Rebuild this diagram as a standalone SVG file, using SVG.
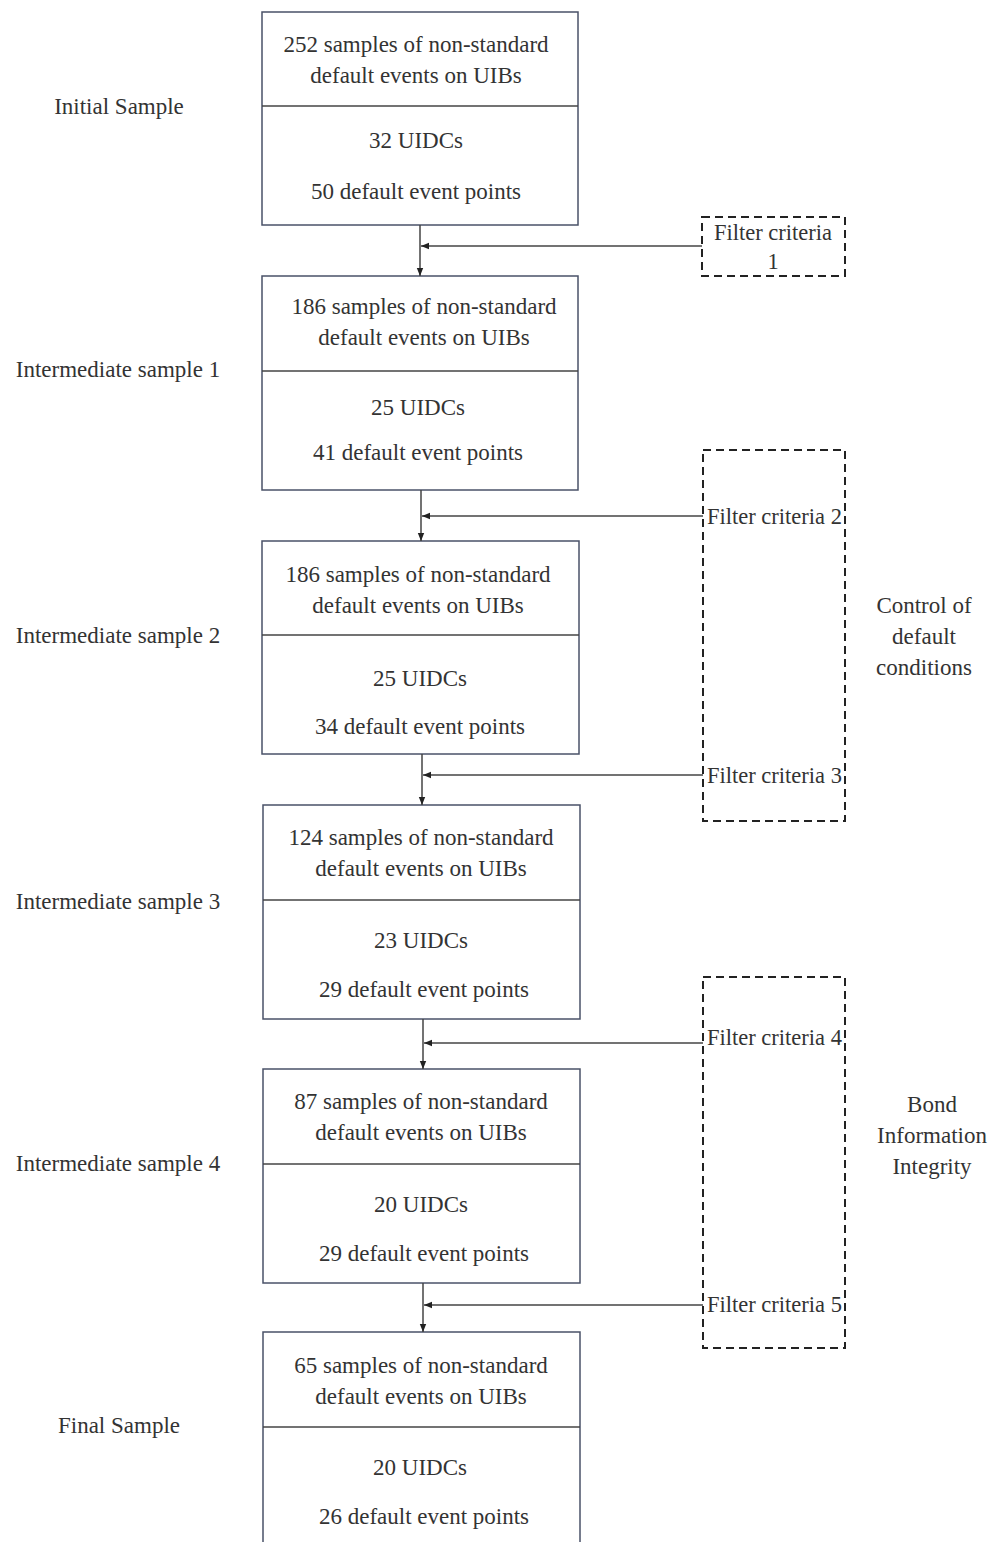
<svg xmlns="http://www.w3.org/2000/svg" width="1000" height="1542" viewBox="0 0 1000 1542">
<style>
text{font-family:"Liberation Serif","Times New Roman",serif;font-size:23px;fill:#333;}
.c{text-anchor:middle;}
.f{font-size:22.5px;}
.box{fill:#fff;stroke:#4a5268;stroke-width:1.5;}
.div{stroke:#444;stroke-width:1.5;}
.dash{fill:none;stroke:#222;stroke-width:2;stroke-dasharray:8,5;}
.con{stroke:#444;stroke-width:1.5;fill:none;}
</style>
<defs>
<marker id="ah" viewBox="0 0 10 10" refX="10" refY="5" markerWidth="8" markerHeight="8" markerUnits="userSpaceOnUse" orient="auto">
<path d="M0,1 L10,5 L0,9 z" fill="#222"/>
</marker>
</defs>
<rect width="1000" height="1542" fill="#fff"/>

<g id="labels-left">
<text class="c" x="119" y="114">Initial Sample</text>
<text class="c" x="118" y="377">Intermediate sample 1</text>
<text class="c" x="118" y="643">Intermediate sample 2</text>
<text class="c" x="118" y="909">Intermediate sample 3</text>
<text class="c" x="118" y="1171">Intermediate sample 4</text>
<text class="c" x="119" y="1433">Final Sample</text>
</g>

<g id="node1">
<rect class="box" x="262" y="12" width="316" height="213"/>
<line class="div" x1="262" y1="106" x2="578" y2="106"/>
<text class="c" x="416" y="52">252 samples of non-standard</text>
<text class="c" x="416" y="83">default events on UIBs</text>
<text class="c" x="416" y="148">32 UIDCs</text>
<text class="c" x="416" y="199">50 default event points</text>
</g>
<g id="node2">
<rect class="box" x="262" y="276" width="316" height="214"/>
<line class="div" x1="262" y1="371" x2="578" y2="371"/>
<text class="c" x="424" y="314">186 samples of non-standard</text>
<text class="c" x="424" y="345">default events on UIBs</text>
<text class="c" x="418" y="415">25 UIDCs</text>
<text class="c" x="418" y="460">41 default event points</text>
</g>
<g id="node3">
<rect class="box" x="262" y="541" width="317" height="213"/>
<line class="div" x1="262" y1="635" x2="579" y2="635"/>
<text class="c" x="418" y="582">186 samples of non-standard</text>
<text class="c" x="418" y="613">default events on UIBs</text>
<text class="c" x="420" y="686">25 UIDCs</text>
<text class="c" x="420" y="734">34 default event points</text>
</g>
<g id="node4">
<rect class="box" x="263" y="805" width="317" height="214"/>
<line class="div" x1="263" y1="900" x2="580" y2="900"/>
<text class="c" x="421" y="845">124 samples of non-standard</text>
<text class="c" x="421" y="876">default events on UIBs</text>
<text class="c" x="421" y="948">23 UIDCs</text>
<text class="c" x="424" y="997">29 default event points</text>
</g>
<g id="node5">
<rect class="box" x="263" y="1069" width="317" height="214"/>
<line class="div" x1="263" y1="1164" x2="580" y2="1164"/>
<text class="c" x="421" y="1109">87 samples of non-standard</text>
<text class="c" x="421" y="1140">default events on UIBs</text>
<text class="c" x="421" y="1212">20 UIDCs</text>
<text class="c" x="424" y="1261">29 default event points</text>
</g>
<g id="node6">
<rect class="box" x="263" y="1332" width="317" height="230"/>
<line class="div" x1="263" y1="1427" x2="580" y2="1427"/>
<text class="c" x="421" y="1373">65 samples of non-standard</text>
<text class="c" x="421" y="1404">default events on UIBs</text>
<text class="c" x="420" y="1475">20 UIDCs</text>
<text class="c" x="424" y="1524">26 default event points</text>
</g>

<g id="filter1">
<rect class="dash" x="702" y="217" width="143" height="59"/>
<text class="c f" x="773" y="240">Filter criteria</text>
<text class="c f" x="773" y="269">1</text>
</g>
<g id="group-control">
<rect class="dash" x="703" y="450" width="142" height="371"/>
<text class="f" x="707" y="524">Filter criteria 2</text>
<text class="f" x="707" y="783">Filter criteria 3</text>
</g>
<g id="group-bond">
<rect class="dash" x="703" y="977" width="142" height="371"/>
<text class="f" x="707" y="1045">Filter criteria 4</text>
<text class="f" x="707" y="1312">Filter criteria 5</text>
</g>
<g id="labels-right">
<text class="c" x="924" y="613">Control of</text>
<text class="c" x="924" y="644">default</text>
<text class="c" x="924" y="675">conditions</text>
<text class="c" x="932" y="1112">Bond</text>
<text class="c" x="932" y="1143">Information</text>
<text class="c" x="932" y="1174">Integrity</text>
</g>

<g id="connectors">
<line class="con" x1="420" y1="225" x2="420" y2="276" marker-end="url(#ah)"/>
<line class="con" x1="702" y1="246" x2="421" y2="246" marker-end="url(#ah)"/>
<line class="con" x1="421" y1="490" x2="421" y2="541" marker-end="url(#ah)"/>
<line class="con" x1="703" y1="516" x2="422" y2="516" marker-end="url(#ah)"/>
<line class="con" x1="422" y1="754" x2="422" y2="805" marker-end="url(#ah)"/>
<line class="con" x1="703" y1="775" x2="423" y2="775" marker-end="url(#ah)"/>
<line class="con" x1="423" y1="1019" x2="423" y2="1069" marker-end="url(#ah)"/>
<line class="con" x1="703" y1="1043" x2="424" y2="1043" marker-end="url(#ah)"/>
<line class="con" x1="423" y1="1283" x2="423" y2="1332" marker-end="url(#ah)"/>
<line class="con" x1="703" y1="1305" x2="424" y2="1305" marker-end="url(#ah)"/>
</g>
</svg>
